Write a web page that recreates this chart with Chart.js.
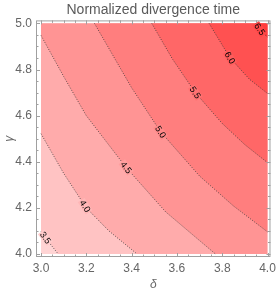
<!DOCTYPE html>
<html>
<head>
<meta charset="utf-8">
<script src="https://cdn.jsdelivr.net/npm/chart.js@4"></script>
<style>
  html, body { margin: 0; padding: 0; background: #fff; }
</style>
</head>
<body>
<canvas id="chart" width="280" height="294"></canvas>
<script>
// contour levels and the (delta, gamma) points
var levels = ['3.5', '4.0', '4.5', '5.0', '5.5', '6.0', '6.5'];
var contour35 = [[3.000, 4.097], [3.038, 4.047], [3.076, 4.000]];
var contour40 = [[3.000, 4.522], [3.100, 4.350], [3.200, 4.200], [3.300, 4.100], [3.424, 4.000]];
var contour45 = [[3.000, 4.948], [3.100, 4.770], [3.200, 4.600], [3.376, 4.375], [3.550, 4.183], [3.770, 4.000]];
var contour50 = [[3.236, 5.000], [3.400, 4.721], [3.528, 4.530], [3.700, 4.338], [3.850, 4.208], [4.000, 4.096]];
var contour55 = [[3.489, 5.000], [3.580, 4.846], [3.681, 4.700], [3.800, 4.566], [3.900, 4.474], [4.000, 4.396]];
var contour60 = [[3.742, 5.000], [3.834, 4.851], [3.920, 4.758], [4.000, 4.696]];
var contour65 = [[3.948, 5.000], [3.966, 4.975], [4.000, 4.939]];
var contours = [contour35, contour40, contour45, contour50, contour55, contour60, contour65];
// where along delta each contour carries its label
var labelDelta = [3.020, 3.195, 3.376, 3.528, 3.681, 3.834, 3.966];
// band colours, lowest band first
var bandColors = ['#ffd4d4', '#ffc3c3', '#ffabab', '#ff9494', '#ff7e7e', '#ff6767', '#ff5151', '#ff3d3d'];
var xTicks = [3.0, 3.2, 3.4, 3.6, 3.8, 4.0];
var yTicks = [4.0, 4.2, 4.4, 4.6, 4.8, 5.0];
var xRange = [3.0, 4.0];
var yRange = [4.0, 5.0];

var FONT = "'Liberation Sans', Arial, sans-serif";
var TEXT = '#666';

function toPts(line) {
    return line.map(function (p) { return {x: p[0], y: p[1]}; });
}

// contour extended along the plot edge so that filling up to gamma = 5 gives the band above it
function bandPoints(line) {
    var pts = toPts(line);
    var first = line[0], last = line[line.length - 1];
    if (first[1] >= yRange[1]) pts.unshift({x: xRange[0], y: yRange[1]});
    if (last[1] <= yRange[0]) pts.push({x: xRange[1], y: yRange[0]});
    return pts;
}

// filled bands first (lowest band at the back), then the dotted contour lines on top
var datasets = [{
    data: [{x: xRange[0], y: yRange[0]}, {x: xRange[1], y: yRange[0]}],
    showLine: true, borderWidth: 0, pointRadius: 0,
    backgroundColor: bandColors[0], fill: {value: yRange[1]}, order: 50
}];
contours.forEach(function (line, i) {
    datasets.push({
        data: bandPoints(line),
        showLine: true, pointRadius: 0, tension: 0, borderWidth: 0,
        backgroundColor: bandColors[i + 1],
        fill: {value: yRange[1]},
        order: 40 - i
    });
});
contours.forEach(function (line) {
    datasets.push({
        data: toPts(line),
        showLine: true, pointRadius: 0, tension: 0, fill: false,
        borderColor: 'rgba(50,50,50,0.75)', borderWidth: 1, borderDash: [1, 1.6],
        order: 1
    });
});

function mix(a, b) {
    var pa = parseInt(a.slice(1), 16), pb = parseInt(b.slice(1), 16);
    var r = ((pa >> 16) + (pb >> 16)) >> 1;
    var g = (((pa >> 8) & 255) + ((pb >> 8) & 255)) >> 1;
    var bl = ((pa & 255) + (pb & 255)) >> 1;
    return 'rgb(' + r + ',' + g + ',' + bl + ')';
}

var framePlugin = {
    id: 'frame',
    afterDatasetsDraw: function (chart) {
        var ctx = chart.ctx, sx = chart.scales.x, sy = chart.scales.y;
        ctx.save();
        ctx.font = '9px ' + FONT;
        ctx.textAlign = 'center';
        ctx.textBaseline = 'middle';
        contours.forEach(function (line, i) {
            var d = labelDelta[i], k = 0;
            while (k < line.length - 2 && line[k + 1][0] < d) k++;
            var a = line[k], b = line[k + 1];
            var t = (d - a[0]) / (b[0] - a[0]);
            var g = a[1] + t * (b[1] - a[1]);
            var px = sx.getPixelForValue(d), py = sy.getPixelForValue(g);
            var ang = Math.atan2(sy.getPixelForValue(b[1]) - sy.getPixelForValue(a[1]),
                sx.getPixelForValue(b[0]) - sx.getPixelForValue(a[0]));
            ctx.save();
            ctx.translate(px, py);
            ctx.rotate(ang);
            var w = ctx.measureText(levels[i]).width;
            ctx.fillStyle = mix(bandColors[i], bandColors[i + 1]);
            ctx.fillRect(-w / 2 - 1, -4, w + 2, 8);
            ctx.fillStyle = '#000';
            ctx.fillText(levels[i], 0, 0.5);
            ctx.restore();
        });
        ctx.restore();
    },
    afterDraw: function (chart) {
        var ctx = chart.ctx, a = chart.chartArea, sx = chart.scales.x, sy = chart.scales.y;
        ctx.save();
        ctx.strokeStyle = '#a0a0a0';
        ctx.lineWidth = 1;
        ctx.strokeRect(a.left + 0.5, a.top + 0.5, a.right - a.left - 1, a.bottom - a.top - 1);
        ctx.beginPath();
        function ticksFor(list) {
            var out = [];
            list.forEach(function (v, j) {
                out.push([v, 4]);
                if (j < list.length - 1) {
                    var step = (list[j + 1] - v) / 4;
                    for (var m = 1; m < 4; m++) out.push([v + m * step, 2.5]);
                }
            });
            return out;
        }
        ticksFor(xTicks).forEach(function (t) {
            var x = Math.round(sx.getPixelForValue(t[0])) + 0.5;
            ctx.moveTo(x, a.bottom); ctx.lineTo(x, a.bottom - t[1]);
            ctx.moveTo(x, a.top); ctx.lineTo(x, a.top + t[1]);
        });
        ticksFor(yTicks).forEach(function (t) {
            var y = Math.round(sy.getPixelForValue(t[0])) + 0.5;
            ctx.moveTo(a.left, y); ctx.lineTo(a.left + t[1], y);
            ctx.moveTo(a.right, y); ctx.lineTo(a.right - t[1], y);
        });
        ctx.stroke();
        ctx.restore();
    }
};

new Chart(document.getElementById('chart'), {
    type: 'scatter',
    data: {datasets: datasets},
    options: {
        responsive: false,
        animation: false,
        devicePixelRatio: 1,
        layout: {padding: {top: 0, right: 7, bottom: 0, left: 0}},
        plugins: {
            legend: {display: false},
            tooltip: {enabled: false},
            title: {
                display: true, fullSize: false,
                text: 'Normalized divergence time',
                color: '#5a5a5a',
                font: {family: FONT, size: 14, weight: 'normal', lineHeight: 1.1},
                padding: {top: 2, bottom: 3}
            }
        },
        scales: {
            x: {
                type: 'linear', position: 'bottom', min: 2.978, max: 4.013,
                afterBuildTicks: function (s) { s.ticks = xTicks.map(function (v) { return {value: v}; }); },
                afterFit: function (s) { s.height = 37; },
                grid: {display: false, drawTicks: false},
                border: {display: false},
                ticks: {
                    padding: 4, color: TEXT, maxRotation: 0, autoSkip: false,
                    font: {family: FONT, size: 12},
                    callback: function (v) { return Number(v).toFixed(1); }
                },
                title: {
                    display: true, text: 'δ', color: TEXT,
                    font: {family: FONT, size: 12, style: 'italic'},
                    padding: {top: 0, bottom: 2}
                }
            },
            y: {
                type: 'linear', position: 'left', min: 3.987, max: 5.013,
                afterBuildTicks: function (s) { s.ticks = yTicks.map(function (v) { return {value: v}; }); },
                afterFit: function (s) { s.width = 36; },
                grid: {display: false, drawTicks: false},
                border: {display: false},
                ticks: {
                    padding: 4, color: TEXT, autoSkip: false,
                    font: {family: FONT, size: 12},
                    callback: function (v) { return Number(v).toFixed(1); }
                },
                title: {
                    display: true, text: 'γ', color: TEXT,
                    font: {family: FONT, size: 12, style: 'italic'},
                    padding: {top: 2, bottom: 0}
                }
            }
        }
    },
    plugins: [framePlugin]
});
</script>
</body>
</html>
